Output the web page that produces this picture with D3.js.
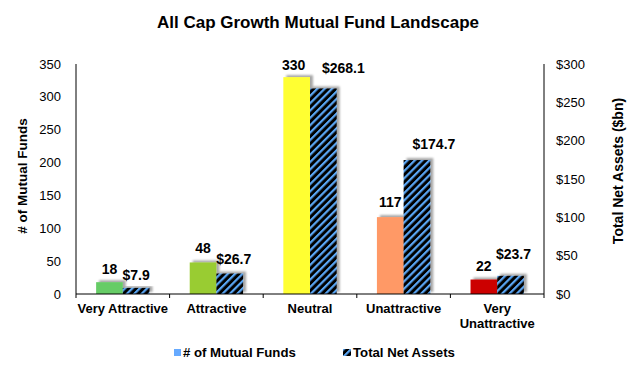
<!DOCTYPE html>
<html><head><meta charset="utf-8">
<script src="https://cdn.jsdelivr.net/npm/d3@7"></script>
<style>body{margin:0;background:#fff}svg{font-family:"Liberation Sans",Arial,sans-serif}</style>
</head><body><svg id="c" width="630" height="368"></svg>
<script>
const categories = ["Very Attractive","Attractive","Neutral","Unattractive","Very Unattractive"];
const fundCounts = [18,48,330,117,22];
const netAssets = [7.9,26.7,268.1,174.7,23.7];
const barColors = ["#66CC66","#99CC33","#FFFF33","#FF9966","#CC0000"];
const leftTicks = [0,50,100,150,200,250,300,350];
const rightTicks = [0,50,100,150,200,250,300];

// manual label nudges (as in the original chart)
const countLabelDx = [0,0,-3,0,0], countLabelGap = [8,9,7,10,9];
const assetLabelDx = [0,4,20,17,3], assetLabelGap = [8,10,15,11,17];

const svg = d3.select("#c");
const m = {l:76, r:544, t:64, b:294};
const x = d3.scaleBand().domain(categories).range([m.l,m.r]);
const yL = d3.scaleLinear().domain([0,350]).range([m.b,m.t]);
const yR = d3.scaleLinear().domain([0,300]).range([m.b,m.t]);
const bw = x.bandwidth()*0.285;

const defs = svg.append("defs");
const pat = defs.append("pattern").attr("id","stripe").attr("patternUnits","userSpaceOnUse")
  .attr("width",5.2).attr("height",5.2).attr("patternTransform","rotate(45)");
pat.append("rect").attr("width",5.2).attr("height",5.2).attr("fill","#000");
pat.append("rect").attr("width",2.2).attr("height",5.2).attr("fill","#5AA6F5");
const f = defs.append("filter").attr("id","sh").attr("x","-30%").attr("y","-30%").attr("width","160%").attr("height","160%");
f.append("feGaussianBlur").attr("in","SourceAlpha").attr("stdDeviation",1).attr("result","b");
f.append("feOffset").attr("in","b").attr("dx",3).attr("dy",-2.5).attr("result","o");
f.append("feComponentTransfer").attr("in","o").attr("result","o2").append("feFuncA").attr("type","linear").attr("slope",0.35);
const fm = f.append("feMerge"); fm.append("feMergeNode").attr("in","o2"); fm.append("feMergeNode").attr("in","SourceGraphic");

svg.append("text").attr("x",318).attr("y",28).attr("text-anchor","middle")
  .attr("font-size",17).attr("font-weight","bold").text("All Cap Growth Mutual Fund Landscape");

// bars
const g = svg.append("g");
categories.forEach((c,i)=>{
  const cx = x(c)+x.bandwidth()/2;
  g.append("rect").attr("x",cx-bw).attr("width",bw).attr("y",yL(fundCounts[i])).attr("height",m.b-yL(fundCounts[i]))
    .attr("fill",barColors[i]).attr("filter","url(#sh)");
  g.append("rect").attr("x",cx).attr("width",bw).attr("y",yR(netAssets[i])).attr("height",m.b-yR(netAssets[i]))
    .attr("fill","url(#stripe)").attr("filter","url(#sh)");
});
categories.forEach((c,i)=>{
  const cx = x(c)+x.bandwidth()/2;
  g.append("text").attr("x",cx-bw/2+countLabelDx[i]).attr("y",yL(fundCounts[i])-countLabelGap[i]).attr("text-anchor","middle")
    .attr("font-size",14).attr("font-weight","bold").text(fundCounts[i]);
  g.append("text").attr("x",cx+bw/2+assetLabelDx[i]).attr("y",yR(netAssets[i])-assetLabelGap[i]).attr("text-anchor","middle")
    .attr("font-size",14).attr("font-weight","bold").text("$"+netAssets[i].toFixed(1));
});

// axes
const ax = svg.append("g").attr("font-size",13);
ax.append("line").attr("x1",m.l).attr("x2",m.l).attr("y1",m.t).attr("y2",m.b).attr("stroke","#000");
ax.append("line").attr("x1",m.r).attr("x2",m.r).attr("y1",m.t).attr("y2",m.b).attr("stroke","#000");
ax.append("line").attr("x1",m.l).attr("x2",m.r).attr("y1",m.b).attr("y2",m.b).attr("stroke","#000");
const bounds = categories.map(c=>x(c)).concat([m.r]);
bounds.forEach(b=>ax.append("line").attr("x1",b).attr("x2",b).attr("y1",m.b).attr("y2",m.b+4).attr("stroke","#000"));
leftTicks.forEach(t=>ax.append("text").attr("x",61).attr("y",yL(t)+4.5).attr("text-anchor","end").text(t));
rightTicks.forEach(t=>ax.append("text").attr("x",556).attr("y",yR(t)+4.5).text("$"+t));
categories.forEach(c=>{
  const cx = x(c)+x.bandwidth()/2;
  const lines = c==="Very Unattractive" ? ["Very","Unattractive"] : [c];
  lines.forEach((l,j)=>ax.append("text").attr("x",cx).attr("y",313+j*15).attr("text-anchor","middle")
    .attr("font-weight","bold").attr("font-size",13).text(l));
});
svg.append("text").attr("transform","translate(27,176) rotate(-90)").attr("text-anchor","middle")
  .attr("font-size",13.5).attr("font-weight","bold").text("# of Mutual Funds");
svg.append("text").attr("transform","translate(623,171) rotate(-90)").attr("text-anchor","middle")
  .attr("font-size",14).attr("font-weight","bold").text("Total Net Assets ($bn)");

// legend
const lg = svg.append("g").attr("font-size",13.2).attr("font-weight","bold");
lg.append("rect").attr("x",174).attr("y",349).attr("width",7).attr("height",7).attr("fill","#66AAFF");
lg.append("text").attr("x",183).attr("y",357).text("# of Mutual Funds");
lg.append("rect").attr("x",343).attr("y",349).attr("width",8).attr("height",7).attr("fill","url(#stripe)");
lg.append("text").attr("x",353).attr("y",357).text("Total Net Assets");
</script></body></html>
